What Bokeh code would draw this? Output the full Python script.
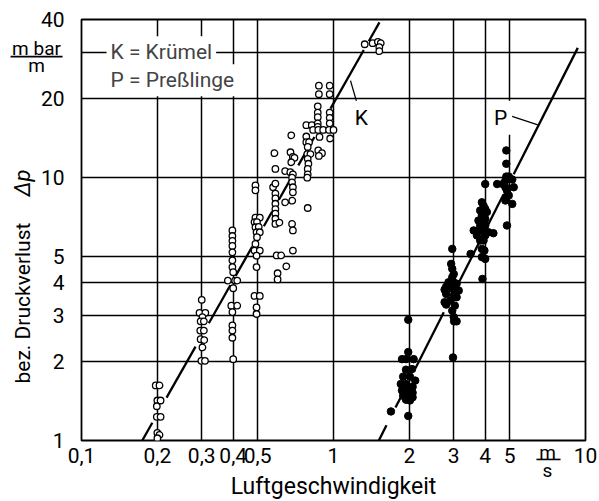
import math
from bokeh.plotting import figure
from bokeh.models import FixedTicker, Label, Range1d
from bokeh.core.properties import value
from bokeh.embed import file_html
from bokeh.resources import INLINE

# ---------------- axes ----------------
x_limits = [0.1, 10]
y_limits = [1, 40]
x_ticks = [0.1, 0.2, 0.3, 0.4, 0.5, 1, 2, 3, 4, 5, 10]
x_tick_labels = ["0,1", "0,2", "0,3", "0,4", "0,5", "1", "2", "3", "4", "5", "10"]
x_grid_values = [0.2, 0.3, 0.4, 0.5, 1, 2, 3, 4, 5]
y_ticks = [1, 2, 3, 4, 5, 10, 20, 30, 40]
y_tick_labels = ["1", "2", "3", "4", "5", "10", "20", "", "40"]
y_grid_values = [2, 3, 4, 5, 10, 20, 30]

x_title = "Luftgeschwindigkeit"
y_title = "bez. Druckverlust"
y_title_symbol = "Δp"
y_unit_top, y_unit_bottom = "m bar", "m"
x_unit_top, x_unit_bottom = "m", "s"
legend_k = "K = Krümel"
legend_p = "P = Preßlinge"

# ---------------- data: K = Krümel (open circles) ----------------
krumel_x = [
    0.197, 0.204, 0.200, 0.206, 0.199, 0.199, 0.206, 0.200, 0.204, 0.200,
    0.300, 0.294, 0.310, 0.302, 0.297, 0.306, 0.296, 0.306, 0.297, 0.307, 0.302, 0.299, 0.309,
    0.397, 0.397, 0.397, 0.397, 0.397, 0.397, 0.397, 0.400, 0.381, 0.407, 0.415, 0.400,
    0.393, 0.415, 0.397, 0.397, 0.397, 0.397, 0.400,
    0.490, 0.490, 0.490, 0.510, 0.486, 0.497, 0.490, 0.505, 0.495, 0.510, 0.497, 0.490,
    0.486, 0.510, 0.495, 0.495, 0.486, 0.510, 0.495, 0.495,
    0.583, 0.588, 0.576, 0.588, 0.588, 0.588, 0.588, 0.588, 0.588, 0.588, 0.588, 0.610,
    0.595, 0.620, 0.650, 0.600, 0.600,
    0.643, 0.643, 0.686,
    0.680, 0.675, 0.690, 0.700, 0.680,
    0.674, 0.690, 0.685, 0.685, 0.690, 0.690,
    0.685, 0.690, 0.690,
    0.780, 0.820, 0.780, 0.780, 0.800, 0.790,
    0.787, 0.810, 0.790, 0.795, 0.790, 0.790, 0.787, 0.790,
    0.870, 0.900, 0.875,
    0.875, 0.966, 0.875, 0.966, 0.866, 0.866, 0.866, 0.866, 0.866, 0.966, 0.966, 0.966,
    0.830, 0.870, 0.910, 0.960, 1.000,
    0.880, 0.970,
    1.33, 1.43, 1.50, 1.54, 1.52, 1.52,
]
krumel_y = [
    1.62, 1.62, 1.42, 1.42, 1.35, 1.23, 1.23, 1.07, 1.05, 1.02,
    3.43, 3.06, 3.06, 2.95, 2.84, 2.84, 2.62, 2.62, 2.43, 2.41, 2.26, 2.01, 2.01,
    6.30, 6.00, 5.75, 5.50, 5.20, 4.85, 4.57, 4.37, 4.06, 4.06, 4.06, 3.80,
    3.26, 3.26, 3.08, 2.74, 2.62, 2.46, 2.04,
    9.35, 8.95, 7.05, 7.05, 6.78, 6.78, 6.48, 6.50, 6.20, 6.20, 5.94, 5.60,
    5.28, 5.28, 5.05, 4.57, 3.55, 3.55, 3.21, 3.03,
    12.4, 10.8, 9.20, 9.50, 8.70, 8.35, 7.96, 7.60, 7.30, 6.98, 6.67, 6.75,
    5.06, 5.06, 4.60, 4.33, 4.10,
    10.6, 8.06, 8.18,
    14.5, 12.5, 12.0, 11.9, 11.45,
    10.5, 10.3, 10.0, 9.60, 9.20, 8.80,
    6.67, 6.30, 5.28,
    15.85, 15.85, 14.35, 13.65, 13.65, 13.1,
    12.3, 12.3, 11.8, 11.3, 10.8, 10.3, 10.0, 7.67,
    12.7, 12.4, 12.1,
    22.4, 22.4, 20.8, 20.8, 18.7, 17.7, 17.0, 16.1, 15.6, 17.7, 16.9, 16.1,
    15.2, 15.2, 15.2, 15.2, 15.2,
    14.3, 14.1,
    32.2, 32.5, 32.9, 32.5, 31.4, 30.3,
]

# ---------------- data: P = Preßlinge (filled dots) ----------------
pressling_x = [
    1.69, 1.98, 1.87, 1.94, 2.08, 1.98, 2.05, 1.94, 1.89, 2.01, 2.11, 1.85, 1.94, 2.06,
    1.87, 1.98, 2.06, 1.89, 1.98, 2.06, 1.94, 2.01, 1.98,
    2.96, 2.93, 2.96, 3.00, 2.96, 2.86, 3.03, 3.08, 2.80, 2.96, 3.08, 2.76, 3.14, 2.80,
    3.00, 3.08, 2.91, 2.76, 3.03, 2.80, 2.96, 3.00, 3.01, 3.08, 2.98, 3.50,
    3.88, 3.94, 4.00, 3.82, 4.06, 3.88, 4.00, 3.76, 3.94, 3.82, 4.00, 3.60, 3.76, 3.94,
    4.12, 4.31, 3.71, 4.00, 3.82, 3.94, 3.88, 3.97, 3.88, 4.00, 3.90, 4.00,
    4.46, 4.70, 4.81, 4.96, 5.12, 5.19, 4.81, 4.88, 4.81, 4.96, 5.12, 4.81, 4.88,
    4.85, 4.85, 4.85, 4.88,
]
pressling_y = [
    1.29, 2.88, 2.04, 2.04, 2.04, 2.17, 1.87, 1.86, 1.75, 1.75, 1.69, 1.64, 1.64, 1.60,
    1.55, 1.55, 1.52, 1.48, 1.46, 1.46, 1.43, 1.42, 1.24,
    5.36, 4.70, 4.50, 4.30, 4.18, 4.00, 3.97, 3.95, 3.85, 3.78, 3.72, 3.75, 3.72, 3.61,
    3.56, 3.51, 3.41, 3.36, 3.26, 3.29, 3.12, 2.95, 2.84, 2.84, 2.07, 5.13,
    8.06, 7.82, 7.60, 7.50, 7.40, 7.19, 6.97, 6.87, 6.78, 6.58, 6.58, 6.30, 6.30, 6.27,
    6.20, 6.15, 6.03, 6.03, 5.77, 5.77, 5.36, 5.28, 4.99, 4.91, 4.12, 9.46,
    9.46, 9.46, 9.76, 10.1, 9.85, 9.20, 9.20, 8.94, 8.42, 8.56, 7.95, 8.19, 6.58,
    12.7, 11.3, 10.1, 9.85,
]

# ---------------- fitted straight lines (log-log) ----------------
krumel_fit_x = [0.1742, 1.522]
krumel_fit_y = [1.0, 39.0]
krumel_fit_pieces = [(0.1742, 0.191), (0.2175, 0.2835), (0.320, 0.390), (0.409, 0.476),
                     (0.529, 0.571), (0.607, 0.694), (0.725, 0.84), (0.973, 1.319), (1.38, 1.522)]
pressling_fit_x = [1.513, 9.32]
pressling_fit_y = [1.0, 31.2]
pressling_fit_pieces = [(1.513, 1.623), (1.762, 1.845), (2.115, 2.74), (3.14, 4.67), (5.19, 9.32)]

# curve tags and leader lines
k_tag = ("K", 1.29, 16.9)
p_tag = ("P", 4.6, 16.9)
k_leader_x = [1.168, 1.248]
k_leader_y = [23.4, 18.8]
p_leader_x = [5.04, 6.47]
p_leader_y = [17.2, 15.9]

# unit fraction bars (outside the plotting box)
y_unit_bar_x = [0.0523, 0.0841]
y_unit_bar_y = 28.9
x_unit_bar_x = [6.39, 7.96]
x_unit_bar_y = 0.847


def fit_pieces(ends_x, ends_y, pieces):
    lx0, lx1 = math.log10(ends_x[0]), math.log10(ends_x[1])
    ly0, ly1 = math.log10(ends_y[0]), math.log10(ends_y[1])
    slope = (ly1 - ly0) / (lx1 - lx0)
    xs, ys = [], []
    for a, b in pieces:
        xs.append([a, b])
        ys.append([10 ** (ly0 + slope * (math.log10(v) - lx0)) for v in (a, b)])
    return xs, ys


FONT = "Roboto"

p = figure(width=599, height=501, x_axis_type="log", y_axis_type="log",
           x_range=Range1d(*x_limits), y_range=Range1d(*y_limits),
           output_backend="svg", toolbar_location=None,
           min_border_left=81, min_border_right=14, min_border_top=19, min_border_bottom=61)
p.background_fill_color = "white"
p.border_fill_color = "white"
p.outline_line_color = "black"
p.outline_line_width = 1.8

# grid
p.xgrid.ticker = FixedTicker(ticks=x_grid_values)
p.ygrid.ticker = FixedTicker(ticks=y_grid_values)
for g in (p.xgrid, p.ygrid):
    g.grid_line_color = "black"
    g.grid_line_width = 1.5
    g.grid_line_alpha = 1.0

# axes
p.xaxis.ticker = FixedTicker(ticks=x_ticks)
p.xaxis.major_label_overrides = {t: s for t, s in zip(x_ticks, x_tick_labels)}
p.yaxis.ticker = FixedTicker(ticks=y_ticks)
p.yaxis.major_label_overrides = {t: s for t, s in zip(y_ticks, y_tick_labels)}
for ax in (p.xaxis, p.yaxis):
    ax.axis_line_color = None
    ax.major_tick_line_color = None
    ax.minor_tick_line_color = None
    ax.major_tick_out = 0
    ax.major_tick_in = 0
    ax.minor_tick_out = 0
    ax.major_label_text_font = FONT
    ax.major_label_text_font_size = "21px"
    ax.major_label_text_color = "black"
p.xaxis.major_label_standoff = 7
p.yaxis.major_label_standoff = 17

# fitted lines
kx, ky = fit_pieces(krumel_fit_x, krumel_fit_y, krumel_fit_pieces)
p.multi_line(kx, ky, line_color="black", line_width=2.3)
px_, py_ = fit_pieces(pressling_fit_x, pressling_fit_y, pressling_fit_pieces)
p.multi_line(px_, py_, line_color="black", line_width=2.3)

# data points
p.scatter(krumel_x, krumel_y, marker="circle", size=6.5, fill_color="white",
          line_color="black", line_width=1.3)
p.scatter(pressling_x, pressling_y, marker="circle", size=7.5, fill_color="black",
          line_color="black")

# leaders
p.line(k_leader_x, k_leader_y, line_color="black", line_width=1.3)
p.line(p_leader_x, p_leader_y, line_color="black", line_width=1.3)

# curve tags
for tag, tx, ty in (k_tag, p_tag):
    p.add_layout(Label(x=tx, y=ty, text=tag, text_align="center", text_baseline="middle",
                       text_font=FONT, text_font_size="21px", text_color="black",
                       background_fill_color="white", padding=5))

# legend texts
p.add_layout(Label(x=x_limits[0], y=30, x_offset=25, text=legend_k,
                   text_align="left", text_baseline="middle", text_font=FONT,
                   text_font_size="21px", background_fill_color="white", padding=4))
p.add_layout(Label(x=x_limits[0], y=30, x_offset=25, y_offset=-28, text=legend_p,
                   text_align="left", text_baseline="middle", text_font=FONT,
                   text_font_size="21px", background_fill_color="white", padding=4))

# ---- texts outside the plotting box: glyphs on the overlay level ----
x_mid = math.sqrt(x_limits[0] * x_limits[1])
# x axis title
p.text(x=[x_mid], y=[y_limits[0]], text=[x_title], y_offset=46,
       text_align="center", text_baseline="middle", text_font=value(FONT),
       text_font_size="23px", text_color="black", level="overlay")
# y axis title (rotated)
p.text(x=[x_limits[0]], y=[y_limits[0]], text=[y_title], angle=math.pi / 2,
       x_offset=-59, y_offset=-57, text_align="left", text_baseline="middle",
       text_font=value(FONT), text_font_size="21px", text_color="black", level="overlay")
p.text(x=[x_limits[0]], y=[y_limits[0]], text=[y_title_symbol], angle=math.pi / 2,
       x_offset=-59, y_offset=-244, text_align="left", text_baseline="middle",
       text_font=value(FONT), text_font_size="22px", text_font_style="italic",
       text_color="black", level="overlay")
# y unit  m bar / m
p.text(x=[x_limits[0], x_limits[0]], y=[y_limits[1], y_limits[1]],
       text=[y_unit_top, y_unit_bottom], x_offset=-45, y_offset=[29, 46],
       text_align="center", text_baseline="middle", text_font=value(FONT),
       text_font_size="19px", text_color="black", level="overlay")
p.line(y_unit_bar_x, [y_unit_bar_y, y_unit_bar_y], line_color="black", line_width=1.6,
       level="overlay")
# x unit  m / s
p.text(x=[x_limits[1], x_limits[1]], y=[y_limits[0], y_limits[0]],
       text=[x_unit_top, x_unit_bottom], x_offset=-38, y_offset=[12, 30],
       text_align="center", text_baseline="middle", text_font=value(FONT),
       text_font_size="19px", text_color="black", level="overlay")
p.line(x_unit_bar_x, [x_unit_bar_y, x_unit_bar_y], line_color="black", line_width=1.6,
       level="overlay")

open("out.html", "w").write(file_html(p, INLINE))
